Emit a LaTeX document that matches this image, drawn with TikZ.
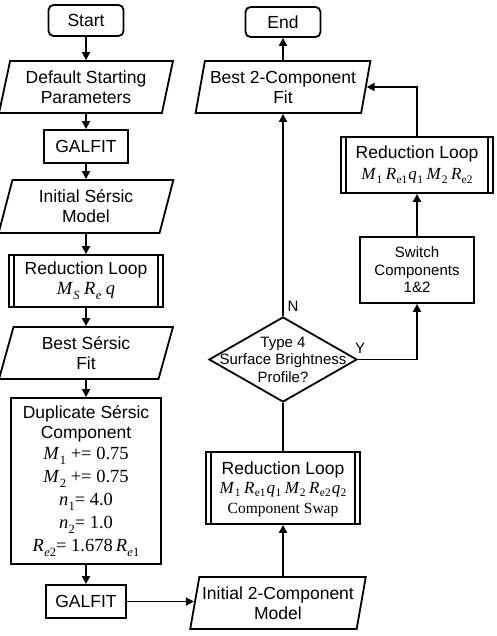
\documentclass[tikz,border=0pt]{standalone}
\usepackage{fontspec}
\setmainfont{Liberation Sans}
\newfontfamily\serifm{Liberation Serif}
\usetikzlibrary{shapes.geometric,arrows.meta}
\newcommand\mvar[2]{\textit{#1}\kern0.3pt\raisebox{-0.28em}{\fontsize{12.5}{12.5}\selectfont #2}}
\newcommand\svar[2]{\textit{#1}\kern0.3pt\raisebox{-0.22em}{\fontsize{11.5}{11.5}\selectfont #2}}
\newcommand\mfnt{\serifm\fontsize{18.5}{22}\selectfont}
\newcommand\sfnt{\serifm\fontsize{17}{20}\selectfont}
\begin{document}
\begin{tikzpicture}[x=1pt,y=-1pt,
  line width=1.8pt,
  every node/.style={font=\fontsize{17.5}{20}\selectfont, inner sep=0pt, line width=1.8pt},
  box/.style={draw, rectangle, align=center},
  term/.style={draw, rectangle, rounded corners=5pt, align=center},
  para/.style={draw, trapezium, trapezium left angle=75, trapezium right angle=105, trapezium stretches=true, align=center},
  arr/.style={-{Triangle[length=8pt,width=8pt]}},
  small/.style={font=\fontsize{15}{17.5}\selectfont},
  bar/.style={line width=1.8pt}
]
\useasboundingbox (0,0) rectangle (496,636);

% left column
\node[term, minimum width=75, minimum height=31] (start) at (86,20.5) {Start};
\node[para, minimum width=174, minimum height=52] (dsp) at (86,87) {Default Starting\\Parameters};
\node[box, minimum width=84, minimum height=33] (g1) at (86,146.5) {GALFIT};
\node[para, minimum width=175, minimum height=53] (isi) at (86,206.5) {Initial Sérsic\\Model};
\node[box, minimum width=154, minimum height=52] (rl1) at (86,281) {Reduction Loop\\[0pt]{\mfnt\mvar{M}{\textit{S}} \mvar{R}{\textit{e}} \textit{q}}};
\node[para, minimum width=174, minimum height=52] (bsf) at (86,353) {Best Sérsic\\Fit};
\node[box, minimum width=150, minimum height=166] (dup) at (86,481) {Duplicate Sérsic\\Component\\[1pt]
  {\mfnt\mvar{M}{1} += 0.75}\\[3pt]
  {\mfnt\mvar{M}{2} += 0.75}\\[3pt]
  {\mfnt\mvar{n}{1}= 4.0}\\[3pt]
  {\mfnt\mvar{n}{2}= 1.0}\\[3pt]
  {\mfnt\mvar{R}{\textit{e}2}= 1.678\,\mvar{R}{\textit{e}1}}};
\node[box, minimum width=80, minimum height=33] (g2) at (86,601.5) {GALFIT};

% right column
\node[para, minimum width=176, minimum height=52] (i2c) at (278,603) {Initial 2-Component\\Model};
\node[box, minimum width=154, minimum height=72] (rl2) at (283,488) {};
\node[align=center] (rl2t) at ([yshift=-1pt]rl2.center) {Reduction Loop\\[-1pt]{\sfnt\svar{M}{1}\kern3.5pt\svar{R}{e1}\kern1pt\svar{q}{1}\kern3.5pt\svar{M}{2}\kern3.5pt\svar{R}{e2}\kern1pt\svar{q}{2}}\\[0pt]{\serifm\fontsize{15.5}{17}\selectfont Component Swap}};
\node[diamond, draw, minimum width=148, minimum height=85] (dia) at (283,359.5) {};
\node[small, align=center] (diat) at (dia.center) {Type 4\\Surface Brightness\\Profile?};
\node[box, small, minimum width=114, minimum height=66] (sw) at (417,270) {Switch\\Components\\1\&2};
\node[box, minimum width=152, minimum height=56] (rl3) at (417,165) {Reduction Loop\\[1pt]{\sfnt\svar{M}{1}\kern3.5pt\svar{R}{e1}\kern1pt\svar{q}{1}\kern3.5pt\svar{M}{2}\kern3.5pt\svar{R}{e2}}};
\node[para, minimum width=175, minimum height=52] (b2c) at (283,87) {Best 2-Component\\Fit};
\node[term, minimum width=75, minimum height=30] (end) at (283,22) {End};

% double bars
\foreach \n in {rl1,rl2,rl3}{
  \draw[bar] ([xshift=6pt]\n.north west) -- ([xshift=6pt]\n.south west);
  \draw[bar] ([xshift=-6pt]\n.north east) -- ([xshift=-6pt]\n.south east);
}

% labels
\node[small] (nlab) at (293,306) {N};
\node[small] (ylab) at (360,348) {Y};

% connectors
\draw[arr] (start) -- (dsp);
\draw[arr] (dsp) -- (g1);
\draw[arr] (g1) -- (isi);
\draw[arr] (isi) -- (rl1);
\draw[arr] (rl1) -- (bsf);
\draw[arr] (bsf) -- (dup);
\draw[arr] (dup) -- (g2);
\draw[arr] (g2.east) -- (g2.east -| i2c.west);
\draw[arr] (rl2.south |- i2c.north) -- (rl2.south);
\draw (rl2.north) -- (dia.south);
\draw[arr] (dia.north) -- (b2c);
\draw[arr] (dia.east) -| (sw.south);
\draw[arr] (sw) -- (rl3);
\draw[arr] (rl3.north) |- (b2c.east);
\draw[arr] (b2c) -- (end);
\end{tikzpicture}
\end{document}
